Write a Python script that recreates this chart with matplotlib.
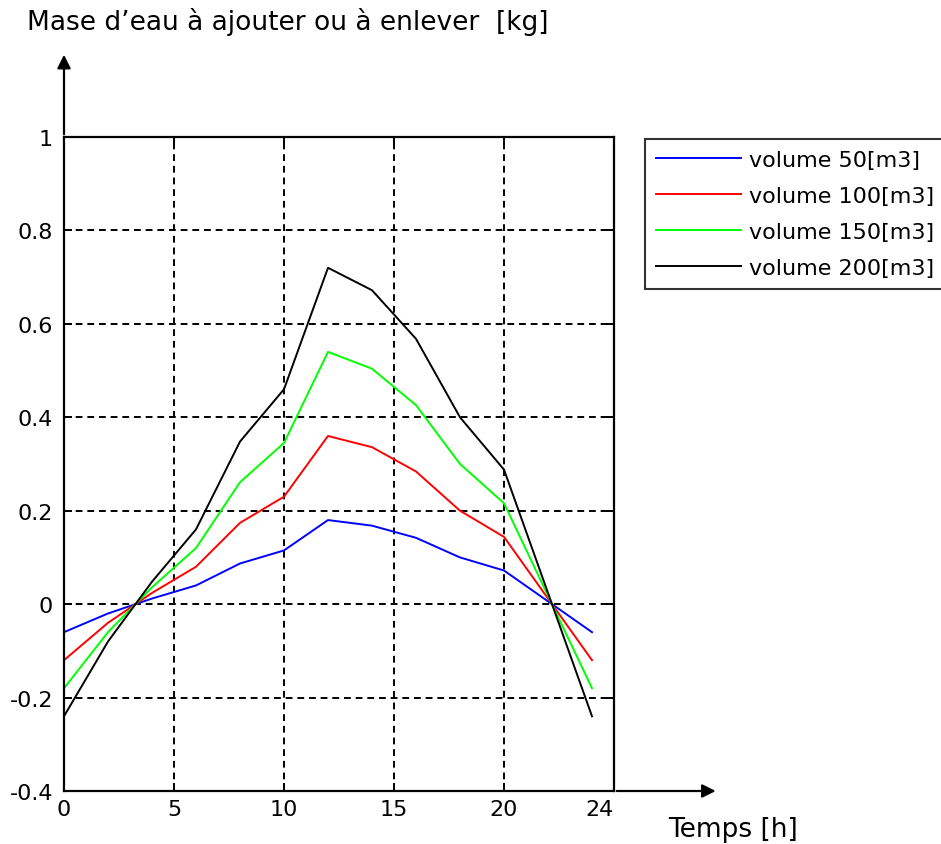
import matplotlib.pyplot as plt
import numpy as np

# hours of the day
hours = [0, 2, 4, 6, 8, 10, 12, 14, 16, 18, 20, 22, 24]

# water mass to add (+) or remove (-) for each tank volume, in kg
mass_50 = [-0.06, -0.02, 0.012, 0.04, 0.087, 0.115, 0.18, 0.168, 0.142, 0.10, 0.072, 0.006, -0.06]
mass_100 = [-0.12, -0.04, 0.024, 0.08, 0.174, 0.23, 0.36, 0.336, 0.284, 0.20, 0.144, 0.012, -0.12]
mass_150 = [-0.18, -0.06, 0.036, 0.12, 0.261, 0.345, 0.54, 0.504, 0.426, 0.30, 0.216, 0.018, -0.18]
mass_200 = [-0.24, -0.08, 0.048, 0.16, 0.348, 0.46, 0.72, 0.672, 0.568, 0.40, 0.288, 0.024, -0.24]

labels = ['volume 50[m3]', 'volume 100[m3]', 'volume 150[m3]', 'volume 200[m3]']
colors = ['#0000ff', '#ff0000', '#00ff00', '#000000']

xtick_pos = [0, 5, 10, 15, 20, 25]
xtick_labels = ['0', '5', '10', '15', '20', '24']
ytick_pos = [-0.4, -0.2, 0, 0.2, 0.4, 0.6, 0.8, 1.0]
ytick_labels = ['-0.4', '-0.2', '0', '0.2', '0.4', '0.6', '0.8', '1']

fig = plt.figure(figsize=(9.41, 8.45), dpi=100)
ax = fig.add_axes([64 / 941, 1 - 792 / 845, 550 / 941, 654 / 845])

lines = []
for y, c, lab in zip([mass_50, mass_100, mass_150, mass_200], colors, labels):
    ln, = ax.plot(hours, y, color=c, lw=1.4, label=lab)
    lines.append(ln)

ax.set_xlim(0, 25)
ax.set_ylim(-0.4, 1.0)
ax.set_xticks(xtick_pos)
ax.set_xticklabels(xtick_labels, fontsize=16)
ax.set_yticks(ytick_pos)
ax.set_yticklabels(ytick_labels, fontsize=16)
ax.get_xticklabels()[-1].set_horizontalalignment('right')
ax.tick_params(direction='in', length=6, width=1.4, top=True, right=True, pad=6)
ax.tick_params(axis='y', pad=8)
ax.grid(True, color='black', lw=1.4, linestyle=(0, (3.5, 2.5)))
for s in ax.spines.values():
    s.set_linewidth(1.6)

# axis arrows
ax.annotate('', xy=(0, 1.13), xytext=(0, 1.0), xycoords='axes fraction',
            arrowprops=dict(arrowstyle='-|>', color='black', lw=1.6, mutation_scale=20))
ax.annotate('', xy=(1.19, 0), xytext=(1.0, 0), xycoords='axes fraction',
            arrowprops=dict(arrowstyle='-|>', color='black', lw=1.6, mutation_scale=20))

fig.text(27 / 941, 1 - 22 / 845, 'Mase d\u2019eau à ajouter ou à enlever  [kg]', fontsize=19,
         ha='left', va='center')
fig.text(668 / 941, 1 - 830 / 845, 'Temps [h]', fontsize=19, ha='left', va='center')

leg = fig.legend(handles=lines, loc='upper left', bbox_to_anchor=(645 / 941, 1 - 140 / 845),
                 fontsize=16, frameon=True, fancybox=False, handlelength=3.8, handletextpad=0.4,
                 labelspacing=0.72, borderpad=0.5, borderaxespad=0)
leg.get_frame().set_edgecolor('black')
leg.get_frame().set_linewidth(1.5)

fig.savefig('out.png', dpi=100)
